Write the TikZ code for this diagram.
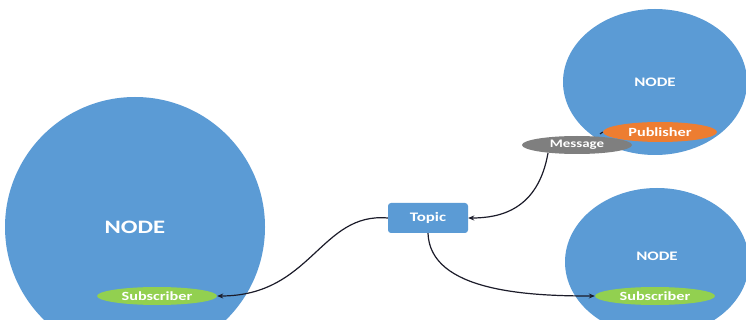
\documentclass[tikz,border=0pt]{standalone}
\usepackage{fontspec}
\setmainfont{Carlito}[FakeStretch=1.3]
\usetikzlibrary{shapes.geometric,arrows.meta}
\definecolor{nodeblue}{HTML}{5B9BD5}
\definecolor{puborange}{HTML}{ED7D31}
\definecolor{subgreen}{HTML}{92D050}
\definecolor{msggray}{HTML}{7F7F7F}
\definecolor{linedark}{HTML}{1C1C2A}
\tikzset{
  rosnode/.style={ellipse,fill=nodeblue,draw=none,inner sep=0pt,text=white,font=\bfseries\fontsize{13}{15}\selectfont},
  tag/.style={ellipse,draw=none,inner sep=0pt,text=white,font=\bfseries\fontsize{12.5}{15}\selectfont},
  topicbox/.style={rectangle,rounded corners=3pt,fill=nodeblue,text=white,minimum width=80pt,minimum height=30pt,inner sep=0pt,font=\bfseries\fontsize{13}{15}\selectfont},
  conn/.style={draw=linedark,line width=1.2pt},
  arr/.style={-{Stealth[length=6pt,width=5pt]}}
}
\begin{document}
\begin{tikzpicture}[x=1pt,y=-1pt]
\useasboundingbox (0,0) rectangle (746,320);
\fill[white] (0,0) rectangle (746,320);
\begin{scope}
\clip (0,0) rectangle (746,320);
\node[rosnode,minimum width=260pt,minimum height=260pt,font=\bfseries\fontsize{19}{21}\selectfont] (left) at (135,227) {NODE};
\node[rosnode,minimum width=184pt,minimum height=146pt] (pubnode) at (655,82) {NODE};
\node[rosnode,minimum width=184pt,minimum height=148pt,
  label={[text=white,font=\bfseries\fontsize{13}{15}\selectfont,yshift=6pt]center:NODE}] (subnode) at (657,262) {};
\end{scope}
\node[tag,fill=puborange,minimum width=114pt,minimum height=20pt] (pub) at (660,132) {Publisher};
\draw[conn] (600,134) -- (pub.west);
\node[tag,fill=msggray,minimum width=110pt,minimum height=18pt,font=\bfseries\fontsize{11.5}{13}\selectfont] (msg) at (577,145) {Message};
\node[tag,fill=subgreen,minimum width=120pt,minimum height=18pt] (sub1) at (157,296) {Subscriber};
\node[tag,fill=subgreen,minimum width=120pt,minimum height=18pt] (sub2) at (655,296) {Subscriber};
\node[topicbox] (topic) at (428,218) {Topic};
\draw[conn,arr] (topic.west) .. controls (320,212) and (312,296) .. (sub1.east);
\draw[conn,arr] (topic.south) .. controls (430,292) and (530,296) .. (sub2.west);
\draw[conn,arr] (548,153) .. controls (538,210) and (500,218) .. (topic.east);
\end{tikzpicture}
\end{document}
